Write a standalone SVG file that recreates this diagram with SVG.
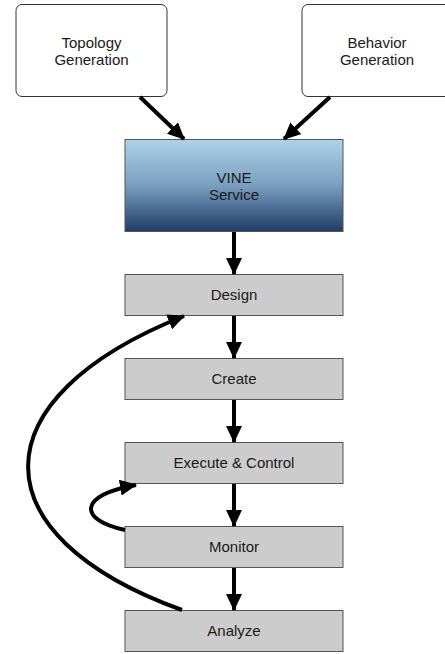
<svg xmlns="http://www.w3.org/2000/svg" width="445" height="654" viewBox="0 0 445 654">
<style>
.txt{font-family:"Liberation Sans",Arial,sans-serif;font-size:15px;fill:#1a1a1a;text-anchor:middle}
.gen{fill:#fff;stroke:#333;stroke-width:1}
.step{fill:#cccccc;stroke:#555;stroke-width:1}
.conn{fill:none;stroke:#000;stroke-width:4}
</style>
<defs>
<linearGradient id="vg" x1="0" y1="0" x2="0" y2="1">
<stop offset="0" stop-color="#aed3e8"/>
<stop offset="0.5" stop-color="#7a9ebf"/>
<stop offset="1" stop-color="#1f3c68"/>
</linearGradient>
<marker id="ah" markerUnits="userSpaceOnUse" markerWidth="18" markerHeight="16" refX="16" refY="8" orient="auto">
<path d="M0,0 L17,8 L0,16 Z" fill="#000"/>
</marker>
</defs>
<g id="topology"><rect class="gen" x="16" y="4.5" width="151" height="92" rx="6"/><text class="txt" x="91.5" y="48">Topology</text><text class="txt" x="91.5" y="65">Generation</text></g>
<g id="behavior"><rect class="gen" x="302" y="4.5" width="150" height="92" rx="6"/><text class="txt" x="377" y="48">Behavior</text><text class="txt" x="377" y="65">Generation</text></g>
<g id="vine"><rect x="125" y="139.5" width="218" height="92" fill="url(#vg)" stroke="#555"/><text class="txt" x="234" y="183">VINE</text><text class="txt" x="234" y="200">Service</text></g>
<g id="design"><rect class="step" x="125" y="274.5" width="218" height="41"/><text class="txt" x="234" y="300">Design</text></g>
<g id="create"><rect class="step" x="125" y="358.5" width="218" height="41"/><text class="txt" x="234" y="384">Create</text></g>
<g id="execute"><rect class="step" x="125" y="442.5" width="218" height="41"/><text class="txt" x="234" y="468">Execute &amp; Control</text></g>
<g id="monitor"><rect class="step" x="125" y="526.5" width="218" height="41"/><text class="txt" x="234" y="552">Monitor</text></g>
<g id="analyze"><rect class="step" x="125" y="610.5" width="218" height="41"/><text class="txt" x="234" y="636">Analyze</text></g>
<g id="connectors">
<path class="conn" d="M140,97 L184,139" marker-end="url(#ah)"/>
<path class="conn" d="M330,97 L284,139" marker-end="url(#ah)"/>
<path class="conn" d="M234,232 L234,274" marker-end="url(#ah)"/>
<path class="conn" d="M234,316 L234,358" marker-end="url(#ah)"/>
<path class="conn" d="M234,400 L234,442" marker-end="url(#ah)"/>
<path class="conn" d="M234,484 L234,526" marker-end="url(#ah)"/>
<path class="conn" d="M234,568 L234,610" marker-end="url(#ah)"/>
<path class="conn" d="M182,610 C-25,535 -22,398 184,316" marker-end="url(#ah)"/>
<path class="conn" d="M125,530 C78,520 78,495 136,485" marker-end="url(#ah)"/>
</g>
</svg>
